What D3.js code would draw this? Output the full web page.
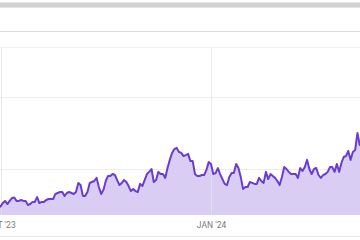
<!DOCTYPE html>
<html>
<head>
<meta charset="utf-8">
<script src="https://cdn.jsdelivr.net/npm/d3@7"></script>
<style>
  html, body { margin: 0; padding: 0; background: #fff; }
  svg { display: block; font-family: Roboto, "Noto Sans", sans-serif; }
</style>
</head>
<body>
<div id="chart"></div>
<script>
// daily impressions, first value is Sep 30 2023
var startDate = "2023-09-30";
var values = [150, 143, 158, 167, 154, 167, 179, 181, 167, 167, 171, 167, 167, 150, 154, 163,
  163, 183, 158, 163, 163, 171, 175, 175, 175, 196, 200, 204, 204, 188, 200, 204,
  200, 196, 204, 242, 233, 188, 188, 204, 242, 246, 250, 263, 225, 196, 213, 250,
  271, 271, 279, 275, 254, 233, 242, 254, 246, 229, 208, 217, 208, 204, 238, 229,
  254, 279, 288, 300, 246, 254, 288, 279, 279, 263, 304, 338, 367, 383, 388, 371,
  367, 354, 358, 363, 333, 333, 279, 271, 271, 275, 275, 296, 329, 321, 279, 283,
  304, 279, 258, 238, 233, 267, 283, 283, 321, 304, 267, 217, 225, 225, 246, 242,
  238, 238, 263, 250, 242, 288, 258, 279, 271, 263, 250, 233, 267, 308, 300, 288,
  279, 279, 279, 263, 304, 292, 308, 338, 300, 279, 300, 304, 275, 263, 275, 279,
  288, 308, 308, 288, 321, 288, 325, 350, 354, 375, 338, 371, 379, 450, 400, 420];
var gridValues = [300, 600];
var tickDates = ["2023-10-01", "2024-01-01"];
var tickLabels = ["OCT '23", "JAN '24"];

var W = 360, H = 240;
var plotTop = 48, plotBottom = 215;

var parse = d3.utcParse("%Y-%m-%d");
var t0 = parse(startDate);
var data = values.map(function (v, i) { return { date: d3.utcDay.offset(t0, i), value: v }; });

var x = d3.scaleUtc().domain(tickDates.map(parse)).range([0.5, 211]);
var y = d3.scaleLinear().domain([0, 600]).range([241, 97]);

var svg = d3.select("#chart").append("svg").attr("width", W).attr("height", H);

// header strip and separators
svg.append("rect").attr("x", 0).attr("y", 2).attr("width", W).attr("height", 6).attr("fill", "#e3e3e3");
svg.append("rect").attr("x", 0).attr("y", 3).attr("width", W).attr("height", 4).attr("fill", "#d2d2d2");
svg.append("line").attr("x1", 0).attr("x2", W).attr("y1", 31.5).attr("y2", 31.5).attr("stroke", "#dcdcdc");
svg.append("line").attr("x1", 0).attr("x2", W).attr("y1", plotTop - 0.5).attr("y2", plotTop - 0.5).attr("stroke", "#f0f0f0");
svg.append("line").attr("x1", 0).attr("x2", W).attr("y1", 236.5).attr("y2", 236.5).attr("stroke", "#e6e6e6");

svg.append("clipPath").attr("id", "plot")
  .append("rect").attr("x", 0).attr("y", plotTop).attr("width", W).attr("height", plotBottom - plotTop);

var g = svg.append("g").attr("clip-path", "url(#plot)");

g.selectAll(".hgrid")
  .data(gridValues)
  .enter().append("line")
    .attr("class", "hgrid")
    .attr("x1", 0).attr("x2", W)
    .attr("y1", function (d) { return Math.round(y(d)) + 0.5; })
    .attr("y2", function (d) { return Math.round(y(d)) + 0.5; })
    .attr("stroke", "#ececec");

var area = d3.area()
  .x(function (d) { return x(d.date); })
  .y0(plotBottom)
  .y1(function (d) { return y(d.value); });

var line = d3.line()
  .x(function (d) { return x(d.date); })
  .y(function (d) { return y(d.value); });

g.append("path").datum(data).attr("d", area).attr("fill", "#dacdf3");

g.selectAll(".vgrid")
  .data(tickDates)
  .enter().append("line")
    .attr("class", "vgrid")
    .attr("x1", function (d) { return Math.round(x(parse(d))) + 0.5; })
    .attr("x2", function (d) { return Math.round(x(parse(d))) + 0.5; })
    .attr("y1", plotTop).attr("y2", plotBottom)
    .attr("stroke", "#e4e4e4")
    .attr("stroke-opacity", 0.8);

g.append("path").datum(data).attr("d", line)
  .attr("fill", "none")
  .attr("stroke", "#6a3dd0")
  .attr("stroke-width", 2)
  .attr("stroke-linejoin", "round");

svg.append("g")
  .attr("transform", "translate(0," + plotBottom + ")")
  .call(d3.axisBottom(x).tickValues(tickDates.map(parse)).tickSize(0).tickPadding(0)
    .tickFormat(function (d, i) { return tickLabels[i]; }))
  .call(function (a) { a.select(".domain").remove(); })
  .selectAll("text")
    .attr("y", 12.5)
    .attr("dy", 0)
    .attr("fill", "#7a7a7a")
    .style("font-size", "8.5px")
    .style("font-family", "Roboto, sans-serif");
</script>
</body>
</html>
